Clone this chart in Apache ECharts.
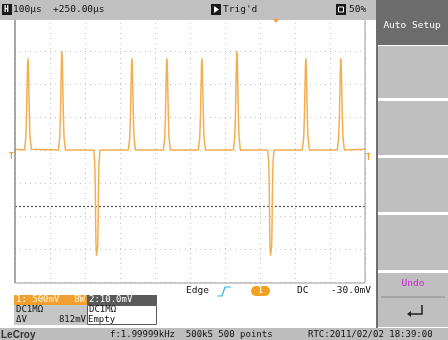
<!DOCTYPE html>
<html><head><meta charset="utf-8">
<script src="https://cdn.jsdelivr.net/npm/echarts@6/dist/echarts.min.js"></script>
<style>html,body{margin:0;padding:0;background:#fff}#c{width:448px;height:340px}</style>
</head><body><div id="c"></div><script>
// time axis (µs), 100 µs/div ; volt axis (V), 500 mV/div
const timeRange = [0, 1000];
const timeStep = 100;
const voltRange = [-2, 2];
const voltStep = 0.5;
// channel 1 trace [µs, V]
const trace = [
 [0,0.01],
 [27,0],[31,0.2],[33,0.55],[34.5,0.95],[36,1.3],[37,1.39],[38,1.3],[39.5,0.95],[41,0.55],[43,0.2],[47,0.01],
 [124,0],[128,0.2],[130,0.58],[131.5,1.0],[133,1.4],[134,1.5],[135,1.4],[136.5,1.0],[138,0.58],[140,0.2],[144,0],
 [225,0],[228,-0.2],[229.5,-0.6],[230.5,-1.1],[231.5,-1.45],[233,-1.6],[234,-1.62],[235,-1.6],[236.5,-1.45],[237.5,-1.1],[238.5,-0.6],[240,-0.2],[243,0],
 [324,0],[328,0.2],[330,0.55],[331.5,0.95],[333,1.3],[334,1.39],[335,1.3],[336.5,0.95],[338,0.55],[340,0.2],[344,0],
 [424,0],[428,0.2],[430,0.55],[431.5,0.95],[433,1.3],[434,1.39],[435,1.3],[436.5,0.95],[438,0.55],[440,0.2],[444,0],
 [524,0],[528,0.2],[530,0.55],[531.5,0.95],[533,1.3],[534,1.39],[535,1.3],[536.5,0.95],[538,0.55],[540,0.2],[544,0],
 [624,0],[628,0.2],[630,0.58],[631.5,1.0],[633,1.4],[634,1.5],[635,1.4],[636.5,1.0],[638,0.58],[640,0.2],[644,0],
 [722,0],[725,-0.2],[726.5,-0.6],[727.5,-1.1],[728.5,-1.45],[730,-1.6],[731,-1.62],[732,-1.6],[733.5,-1.45],[734.5,-1.1],[735.5,-0.6],[737,-0.2],[740,0],
 [821,0],[825,0.2],[827,0.55],[828.5,0.95],[830,1.3],[831,1.39],[832,1.3],[833.5,0.95],[835,0.55],[837,0.2],[841,0],
 [921,0],[925,0.2],[927,0.55],[928.5,0.95],[930,1.3],[931,1.39],[932,1.3],[933.5,0.95],[935,0.55],[937,0.2],[941,0],
 [1000,0.01]
];
const ch2Level = -0.85;
// UI texts
const topLeftText = '100µs  +250.00µs';
const trigText = "Trig'd";
const zoomText = '50%';
const softKeys = ['Auto Setup', 'Undo'];
const chRow1 = ['1: 500mV', 'BW', '2:10.0mV'];
const chRow2 = ['DC1MΩ', 'DC1MΩ'];
const chRow3 = ['ΔV', '812mV', 'Empty'];
const trigInfo = ['Edge', '1', 'DC', '-30.0mV'];
const statusInfo = ['LeCroy', 'f:1.99999kHz  500kS 500 points', 'RTC:2011/02/02 18:39:00'];

const F = '9.5px "DejaVu Sans Mono", monospace';
const FS = '9px "DejaVu Sans Mono", monospace';
function txt(x, y, t, fill, opts) {
  return {type:'text', z:20, style:Object.assign({x:x, y:y, text:t, fill:fill||'#111', font:F, align:'left', verticalAlign:'middle'}, opts||{})};
}
const g = [];
// top bar
g.push({type:'rect', z:10, shape:{x:0,y:0,width:376,height:20}, style:{fill:'#c0c0c0'}});
g.push({type:'rect', z:11, shape:{x:2,y:4,width:10,height:11}, style:{fill:'#1a1a1a'}});
g.push(txt(4,10,'H','#fff',{font:'bold 8px "DejaVu Sans Mono"'}));
g.push(txt(13,10,topLeftText,'#111'));
g.push({type:'rect', z:11, shape:{x:211,y:4,width:10,height:11}, style:{fill:'#1a1a1a'}});
g.push({type:'polygon', z:12, shape:{points:[[214,6],[214,13],[219,9.5]]}, style:{fill:'#fff'}});
g.push(txt(223,10,trigText,'#111'));
g.push({type:'rect', z:11, shape:{x:336,y:4,width:10,height:11}, style:{fill:'#1a1a1a'}});
g.push({type:'rect', z:12, shape:{x:338.5,y:7,width:5,height:5}, style:{fill:'none', stroke:'#fff', lineWidth:1}});
g.push(txt(349,10,zoomText,'#111'));
// trigger position marker
g.push({type:'polygon', z:12, shape:{points:[[273,19],[279,19],[276,23]]}, style:{fill:'#f0a030'}});
// right panel
g.push({type:'rect', z:10, shape:{x:376,y:0,width:72,height:45}, style:{fill:'#6c6c6c'}});
g.push(txt(412,26,softKeys[0],'#fff',{align:'center'}));
g.push({type:'rect', z:10, shape:{x:376,y:45,width:2,height:283}, style:{fill:'#707070'}});
[[46,98],[101,155],[158,212],[215,270],[273,327]].forEach(function(b){
  g.push({type:'rect', z:10, shape:{x:378,y:b[0],width:70,height:b[1]-b[0]}, style:{fill:'#bfbfbf'}});
});
g.push(txt(413,284,softKeys[1],'#d020d0',{align:'center'}));
g.push({type:'line', z:11, shape:{x1:381,y1:297,x2:445,y2:297}, style:{stroke:'#8a8a8a', lineWidth:1}});
g.push({type:'polyline', z:11, shape:{points:[[422,305],[422,314],[410,314]]}, style:{stroke:'#222', lineWidth:1.5, fill:'none'}});
g.push({type:'polygon', z:11, shape:{points:[[407,314],[411,311],[411,317]]}, style:{fill:'#222'}});
// plot frame
g.push({type:'line', z:9, shape:{x1:15,y1:18,x2:15,y2:283}, style:{stroke:'#8c8c8c', lineWidth:1.5}});
g.push({type:'line', z:9, shape:{x1:15,y1:283,x2:365,y2:283}, style:{stroke:'#9a9a9a', lineWidth:1}});
g.push({type:'line', z:9, shape:{x1:365,y1:18,x2:365,y2:283}, style:{stroke:'#9a9a9a', lineWidth:1}});
// channel markers
g.push(txt(9,157,'T','#f0a030',{font:'bold 8px "DejaVu Sans Mono"'}));
g.push(txt(366,158,'T','#f0a030',{font:'bold 8px "DejaVu Sans Mono"'}));
// trigger info row
g.push(txt(186,291,trigInfo[0],'#111'));
g.push({type:'polyline', z:11, shape:{points:[[217,296],[222,296],[225,287],[231,287]]}, style:{stroke:'#30b4e0', lineWidth:1.2, fill:'none'}});
g.push({type:'rect', z:11, shape:{x:251,y:286,width:19,height:10,r:5}, style:{fill:'#f0a020'}});
g.push(txt(260.5,291,trigInfo[1],'#fff',{align:'center', font:FS}));
g.push(txt(297,291,trigInfo[2],'#111'));
g.push(txt(331,291,trigInfo[3],'#111'));
// channel box
g.push({type:'rect', z:10, shape:{x:14,y:295,width:73,height:10}, style:{fill:'#f0a030'}});
g.push(txt(16,300,chRow1[0],'#fff6d8',{font:FS}));
g.push(txt(85,300,chRow1[1],'#fff6d8',{font:FS, align:'right'}));
g.push({type:'rect', z:10, shape:{x:87,y:295,width:70,height:10}, style:{fill:'#5a5a5a'}});
g.push(txt(89,300,chRow1[2],'#fff',{font:FS}));
g.push({type:'rect', z:10, shape:{x:14,y:305,width:73,height:20}, style:{fill:'#c6c6c6'}});
g.push({type:'rect', z:10, shape:{x:87.5,y:305.5,width:69,height:19}, style:{fill:'#fff', stroke:'#5a5a5a', lineWidth:1}});
g.push(txt(16,310,chRow2[0],'#111',{font:FS}));
g.push(txt(89,310,chRow2[1],'#111',{font:FS}));
g.push(txt(16,320,chRow3[0],'#111',{font:FS}));
g.push(txt(86,320,chRow3[1],'#111',{font:FS, align:'right'}));
g.push(txt(88,320,chRow3[2],'#111',{font:FS}));
// status bar
g.push({type:'rect', z:10, shape:{x:0,y:328,width:448,height:12}, style:{fill:'#bdbdbd'}});
g.push(txt(1,335,statusInfo[0],'#333',{font:'bold 10px "Liberation Sans", sans-serif'}));
g.push(txt(110,335,statusInfo[1],'#111',{font:FS}));
g.push(txt(308,335,statusInfo[2],'#111',{font:FS}));

const chart = echarts.init(document.getElementById('c'), null, {renderer:'canvas'});
chart.setOption({
  animation:false,
  backgroundColor:'#fff',
  grid:{left:15, top:18, width:350, height:264, containLabel:false},
  xAxis:{type:'value', min:timeRange[0], max:timeRange[1], interval:timeStep,
    axisLine:{show:false}, axisTick:{show:false}, axisLabel:{show:false},
    splitLine:{show:true, lineStyle:{type:[1,4], color:'#c4c4c4', width:1}}},
  yAxis:{type:'value', min:voltRange[0], max:voltRange[1], interval:voltStep,
    axisLine:{show:false}, axisTick:{show:false}, axisLabel:{show:false},
    splitLine:{show:true, lineStyle:{type:[1,4], color:'#c4c4c4', width:1}}},
  series:[{type:'line', data:trace, showSymbol:false, symbol:'none',
    lineStyle:{color:'#f4ae50', width:1.5}, z:5,
    markLine:{silent:true, symbol:'none', label:{show:false},
      lineStyle:{color:'#555', type:[2,2], width:1.2},
      data:[{yAxis:ch2Level}]}}],
  graphic:g
});
</script></body></html>
